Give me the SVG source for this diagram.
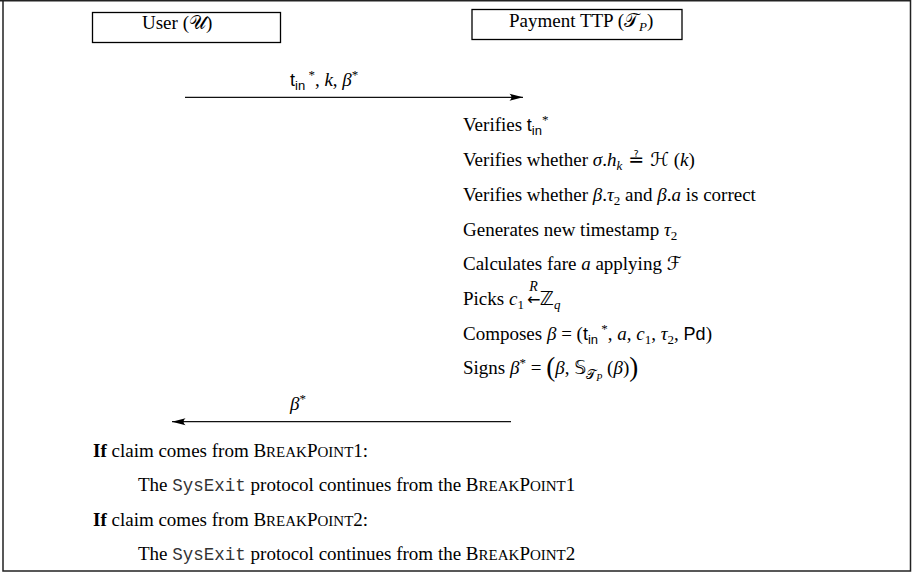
<svg xmlns="http://www.w3.org/2000/svg" width="914" height="572" viewBox="0 0 914 572">
<style>
.t{font-family:"Liberation Serif","DejaVu Serif",serif;font-size:19px;fill:#000}
.it{font-style:italic}
.sf{font-family:"Liberation Sans","DejaVu Sans",sans-serif;font-size:18px}
.sub{font-size:13px}
.cal{font-family:"DejaVu Serif","DejaVu Sans","Noto Sans",serif;font-style:normal}
.sym{font-family:"DejaVu Sans","Noto Sans",sans-serif}
.tt{font-family:"Liberation Mono","DejaVu Sans Mono",monospace;font-size:17.5px;fill:#333}
.sc{font-size:15px}
.box{fill:#fff;stroke:#000;stroke-width:1.3}
.msg{stroke:#111;stroke-width:1.2;fill:none;marker-end:url(#head)}
</style>
<defs>
<marker id="head" viewBox="-14 -5 15 10" refX="0" refY="0" markerWidth="15" markerHeight="10" markerUnits="userSpaceOnUse" orient="auto">
<path d="M0,0 L-13.5,-3.5 Q-9.5,0 -13.5,3.5 Z" fill="#000"/>
</marker>
</defs>
<rect width="914" height="572" fill="#fff"/>
<path d="M0,0.75 H910.5 V571 H3 V0.75" fill="none" stroke="#222" stroke-width="1.5"/>

<g id="user">
<rect class="box" x="92.5" y="12.5" width="188" height="30"/>
<text class="t" x="142" y="29">User (<tspan class="cal">𝒰</tspan>)</text>
</g>
<g id="ttp">
<rect class="box" x="472" y="9.5" width="210" height="30"/>
<text class="t" x="509" y="27">Payment TTP (<tspan class="cal">𝒯</tspan><tspan class="it sub" dy="4">P</tspan><tspan dy="-4">)</tspan></text>
</g>

<g id="connectors">
<line class="msg" x1="185" y1="97.3" x2="523" y2="97.3"/>
<text class="t" x="290" y="86"><tspan class="sf">t</tspan><tspan class="sf sub" dy="4">in</tspan><tspan class="sub" dy="-11"> *</tspan><tspan dy="7">, </tspan><tspan class="it">k</tspan>, <tspan class="it">β</tspan><tspan class="sub" dy="-7">*</tspan></text>
<line class="msg" x1="511" y1="421.7" x2="172" y2="421.7"/>
<text class="t" x="290" y="410"><tspan class="it">β</tspan><tspan class="sub" dy="-7">*</tspan></text>
</g>

<g id="steps">
<text class="t" x="463" y="131">Verifies <tspan class="sf">t</tspan><tspan class="sf sub" dy="4">in</tspan><tspan class="sub" dy="-11">*</tspan></text>
<text class="t" x="463" y="166">Verifies whether <tspan class="it">σ</tspan>.<tspan class="it">h</tspan><tspan class="it sub" dy="4">k</tspan><tspan class="sym" dy="-4"> ≟ </tspan><tspan class="cal">ℋ</tspan> (<tspan class="it">k</tspan>)</text>
<text class="t" x="463" y="201">Verifies whether <tspan class="it">β</tspan>.<tspan class="it">τ</tspan><tspan class="sub" dy="4">2</tspan><tspan dy="-4"> and </tspan><tspan class="it">β</tspan>.<tspan class="it">a</tspan> is correct</text>
<text class="t" x="463" y="236">Generates new timestamp <tspan class="it">τ</tspan><tspan class="sub" dy="4">2</tspan></text>
<text class="t" x="463" y="270">Calculates fare <tspan class="it">a</tspan> applying <tspan class="cal">ℱ</tspan></text>
<text class="t" x="463" y="305">Picks <tspan class="it">c</tspan><tspan class="sub" dy="4">1</tspan><tspan class="sym" font-size="16" dx="3" dy="-4">←</tspan><tspan class="it" font-size="14" dx="-11" dy="-14">R</tspan><tspan class="sym" dx="2" dy="14">ℤ</tspan><tspan class="it sub" dy="4">q</tspan></text>
<text class="t" x="463" y="340">Composes <tspan class="it">β</tspan> = (<tspan class="sf">t</tspan><tspan class="sf sub" dy="4">in</tspan><tspan class="sub" dy="-11"> *</tspan><tspan dy="7">, </tspan><tspan class="it">a</tspan>, <tspan class="it">c</tspan><tspan class="sub" dy="4">1</tspan><tspan dy="-4">, </tspan><tspan class="it">τ</tspan><tspan class="sub" dy="4">2</tspan><tspan dy="-4">, </tspan><tspan class="sf">Pd</tspan>)</text>
<text class="t" x="463" y="374">Signs <tspan class="it">β</tspan><tspan class="sub" dy="-7">*</tspan><tspan dy="7"> = </tspan><tspan font-size="27" dy="2">(</tspan><tspan class="it" dy="-2">β</tspan>, <tspan class="sym">𝕊</tspan><tspan class="cal sub" dy="5">𝒯</tspan><tspan class="it" font-size="10" dy="2">P</tspan><tspan dy="-7"> (</tspan><tspan class="it">β</tspan>)<tspan font-size="27" dy="2">)</tspan></text>
</g>

<g id="claims">
<text class="t" x="93" y="457"><tspan font-weight="bold">If</tspan> claim comes from B<tspan class="sc">REAK</tspan>P<tspan class="sc">OINT</tspan>1:</text>
<text class="t" x="138" y="491">The <tspan class="tt">SysExit</tspan> protocol continues from the B<tspan class="sc">REAK</tspan>P<tspan class="sc">OINT</tspan>1</text>
<text class="t" x="93" y="526"><tspan font-weight="bold">If</tspan> claim comes from B<tspan class="sc">REAK</tspan>P<tspan class="sc">OINT</tspan>2:</text>
<text class="t" x="138" y="560">The <tspan class="tt">SysExit</tspan> protocol continues from the B<tspan class="sc">REAK</tspan>P<tspan class="sc">OINT</tspan>2</text>
</g>
</svg>
